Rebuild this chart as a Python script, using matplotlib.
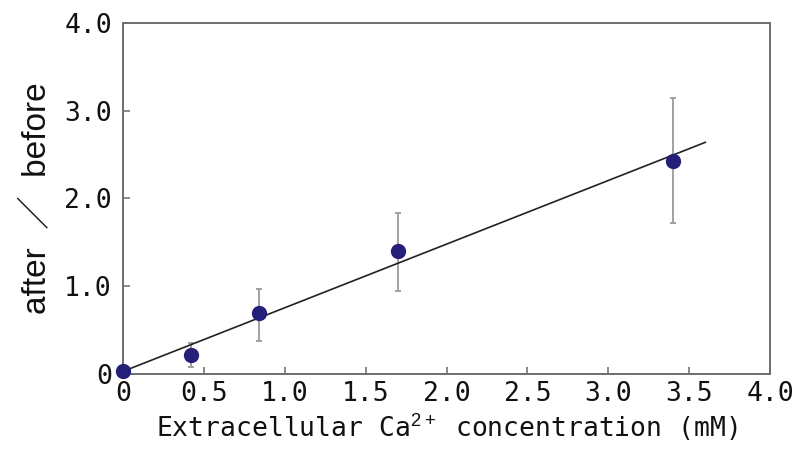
import matplotlib
matplotlib.use("Agg")
import matplotlib.pyplot as plt

# measured ratio vs extracellular calcium
ca_mM = [0.0, 0.42, 0.84, 1.70, 3.40]
ratio = [0.03, 0.22, 0.69, 1.40, 2.43]
err_low = [0.03, 0.08, 0.38, 0.95, 1.72]
err_high = [0.03, 0.35, 0.965, 1.84, 3.14]

# linear fit drawn from 0 to 3.6 mM
fit_x = [0.0, 3.6]
fit_y = [0.03, 2.64]

x_ticks = [0, 0.5, 1.0, 1.5, 2.0, 2.5, 3.0, 3.5, 4.0]
x_labels = ["0", "0.5", "1.0", "1.5", "2.0", "2.5", "3.0", "3.5", "4.0"]
y_ticks = [0, 1.0, 2.0, 3.0, 4.0]
y_labels = ["0", "1.0", "2.0", "3.0", "4.0"]

plt.rcParams["mathtext.fontset"] = "custom"
plt.rcParams["mathtext.rm"] = "Liberation Sans"
plt.rcParams["mathtext.default"] = "rm"

fig = plt.figure(figsize=(8.03, 4.55), dpi=100)
ax = fig.add_axes([0.1532, 0.178, 0.8057, 0.7715])

lower = [r - lo for r, lo in zip(ratio, err_low)]
upper = [hi - r for r, hi in zip(ratio, err_high)]
ax.errorbar(ca_mM, ratio, yerr=[lower, upper], fmt="none", ecolor="#9a9a9a",
            elinewidth=1.3, capsize=2.5, capthick=1.3, zorder=2)
ax.plot(fit_x, fit_y, color="#222222", lw=1.2, zorder=3)
ax.plot(ca_mM, ratio, "o", color="#241f78", markersize=10, zorder=5, clip_on=False)

ax.set_xlim(0, 4.0)
ax.set_ylim(0, 4.0)
ax.set_xticks(x_ticks)
ax.set_xticklabels(x_labels)
ax.set_yticks(y_ticks)
ax.set_yticklabels(y_labels)

mono = "DejaVu Sans Mono"
for lab in ax.get_xticklabels() + ax.get_yticklabels():
    lab.set_fontfamily(mono)
    lab.set_fontsize(19)
    lab.set_color("#111111")

ax.tick_params(direction="in", length=5, width=1.2, color="#777777")
ax.tick_params(axis="x", pad=5)
ax.tick_params(axis="y", pad=8)
for side in ["top", "bottom", "left", "right"]:
    ax.spines[side].set_color("#6e6e6e")
    ax.spines[side].set_linewidth(1.4)

ax.set_xlabel("Extracellular Ca$^{2+}$ concentration (mM)", fontfamily=mono,
              fontsize=19, color="#111111", labelpad=4)
ax.set_ylabel("after  ／  before", family=["Liberation Sans", "Noto Sans CJK JP"],
              fontsize=24, color="#111111", labelpad=8)

fig.savefig("out.png", dpi=100)
